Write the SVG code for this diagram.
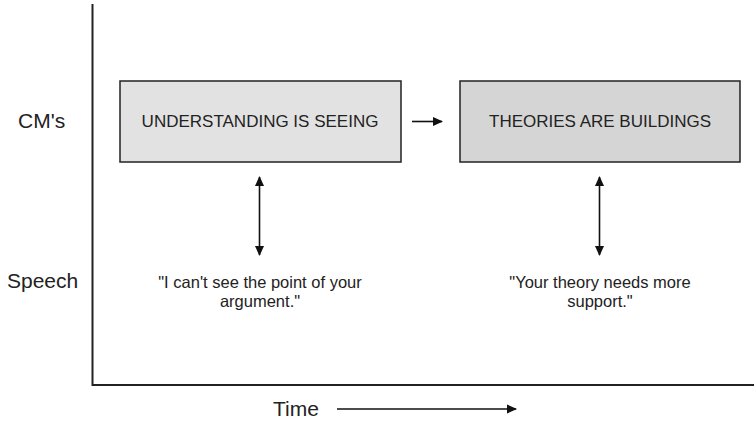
<svg xmlns="http://www.w3.org/2000/svg" width="754" height="421" viewBox="0 0 754 421">
  <style>
    text { font-family: "Liberation Sans", Arial, sans-serif; fill: #222; }
    .axis { stroke: #222; stroke-width: 2; fill: none; }
    .lbl { font-size: 21px; }
    .box { stroke: #222; stroke-width: 1.5; }
    .boxtxt { font-size: 17px; text-anchor: middle; }
    .quote { font-size: 16.5px; text-anchor: middle; }
    .link { stroke: #111; stroke-width: 1.6; fill: none; }
  </style>
  <defs>
    <marker id="head" viewBox="0 0 10 10" refX="9" refY="5" markerWidth="10" markerHeight="10" markerUnits="userSpaceOnUse" orient="auto-start-reverse">
      <path d="M0,0.5 L10,5 L0,9.5 Z" fill="#111"/>
    </marker>
  </defs>
  <rect width="754" height="421" fill="#fff"/>

  <!-- axes and their labels -->
  <g id="axes">
    <path class="axis" d="M92.5,4 V385 H754"/>
    <text class="lbl" x="18" y="128">CM's</text>
    <text class="lbl" x="7" y="288">Speech</text>
    <text class="lbl" x="273" y="416">Time</text>
  </g>

  <g id="node-understanding">
    <rect class="box" x="120" y="81" width="281" height="81" fill="#e2e2e2"/>
    <text class="boxtxt" x="260" y="127">UNDERSTANDING IS SEEING</text>
  </g>
  <g id="node-theories">
    <rect class="box" x="460" y="81" width="280" height="81" fill="#d5d5d5"/>
    <text class="boxtxt" x="600" y="127">THEORIES ARE BUILDINGS</text>
  </g>
  <g id="node-quote-1">
    <text class="quote" x="260" y="288">"I can't see the point of your</text>
    <text class="quote" x="260" y="306.5">argument."</text>
  </g>
  <g id="node-quote-2">
    <text class="quote" x="600" y="288">"Your theory needs more</text>
    <text class="quote" x="600" y="306.5">support."</text>
  </g>

  <g id="connectors">
    <line class="link" x1="412" y1="121.5" x2="442" y2="121.5" marker-end="url(#head)"/>
    <line class="link" x1="259.5" y1="177" x2="259.5" y2="255" marker-start="url(#head)" marker-end="url(#head)"/>
    <line class="link" x1="599.5" y1="177" x2="599.5" y2="255" marker-start="url(#head)" marker-end="url(#head)"/>
    <line class="link" x1="337" y1="409" x2="516" y2="409" marker-end="url(#head)"/>
  </g>
</svg>
